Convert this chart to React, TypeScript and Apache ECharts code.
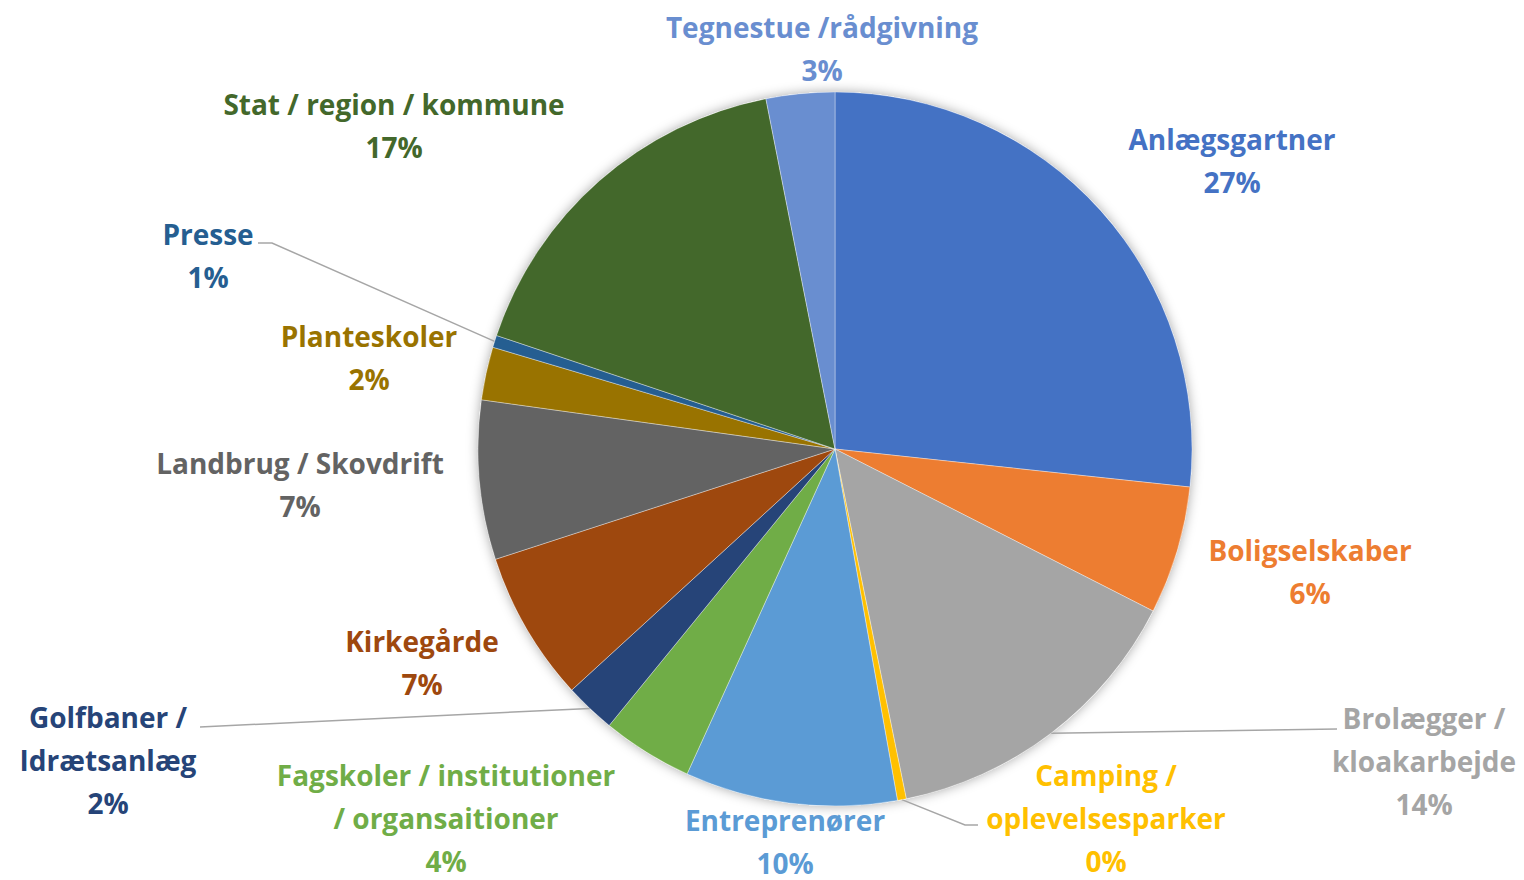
import React, { useEffect, useRef } from "react";
import * as echarts from "echarts";

const categories = [
  "Anlægsgartner",
  "Boligselskaber",
  "Brolægger /\nkloakarbejde",
  "Camping /\noplevelsesparker",
  "Entreprenører",
  "Fagskoler / institutioner\n/ organsaitioner",
  "Golfbaner /\nIdrætsanlæg",
  "Kirkegårde",
  "Landbrug / Skovdrift",
  "Planteskoler",
  "Presse",
  "Stat / region / kommune",
  "Tegnestue /rådgivning",
];

const values = [26.7, 5.8, 14.3, 0.4, 9.6, 4.1, 2.3, 6.8, 7.2, 2.4, 0.55, 16.75, 3.1];

const colors = [
  "#4472C4", "#ED7D31", "#A5A5A5", "#FFC000", "#5B9BD5", "#70AD47", "#264478",
  "#9E480E", "#636363", "#997300", "#255E91", "#43682B", "#698ED0",
];

// label block centres (layout only)
const labelPos: [number, number][] = [
  [1232, 160], [1310, 571], [1424, 761], [1106, 818], [785, 841], [446, 818],
  [108, 760], [422, 662], [300, 484], [369, 357], [208, 255], [394, 125], [822, 48],
];

// extra leader-line points after the slice anchor (layout only)
const leaderTail: Record<number, [number, number][]> = {
  2: [[1337, 729]],
  3: [[965, 825], [978, 825]],
  6: [[200, 727]],
  10: [[272, 243], [258, 243]],
};

export default function App() {
  const ref = useRef<HTMLDivElement>(null);
  useEffect(() => {
    if (!ref.current) return;
    const chart = echarts.init(ref.current, undefined, { renderer: "svg" });
    const data = categories.map((name, i) => ({
      name,
      value: values[i],
      itemStyle: { color: colors[i] },
      label: { color: colors[i] },
      labelLine: { show: !!leaderTail[i] },
    }));
    chart.setOption({
      animation: false,
      backgroundColor: "#ffffff",
      series: [
        {
          type: "pie",
          silent: true,
          z: 1,
          center: [835, 449],
          radius: [0, 357],
          label: { show: false },
          labelLine: { show: false },
          data: [
            {
              value: 1,
              itemStyle: {
                color: "#ffffff",
                shadowBlur: 12,
                shadowColor: "rgba(0,0,0,0.35)",
                shadowOffsetX: 0,
                shadowOffsetY: 0,
              },
            },
          ],
        },
        {
          type: "pie",
          z: 2,
          center: [835, 449],
          radius: [0, 357],
          startAngle: 90,
          clockwise: true,
          itemStyle: { borderColor: "rgba(255,255,255,0.6)", borderWidth: 0.6 },
          label: {
            show: true,
            position: "outside",
            fontFamily: "Open Sans",
            fontWeight: "bold",
            fontSize: 28,
            lineHeight: 43,
            align: "center",
            formatter: (p: any) => `${p.name}\n${Math.round(p.percent)}%`,
          },
          labelLine: {
            show: false,
            lineStyle: { color: "#A6A6A6", width: 1.5 },
          },
          labelLayout: (params: any) => {
            const i = params.dataIndex;
            const [x, y] = labelPos[i];
            const res: any = { x, y, align: "center", verticalAlign: "middle" };
            if (leaderTail[i] && params.labelLinePoints) {
              res.labelLinePoints = [params.labelLinePoints[0], ...leaderTail[i]];
            }
            return res;
          },
          data,
        },
      ],
    });
    return () => chart.dispose();
  }, []);
  return (
    <div
      ref={ref}
      style={{ position: "fixed", left: 0, top: 0, width: 1524, height: 880 }}
    />
  );
}
